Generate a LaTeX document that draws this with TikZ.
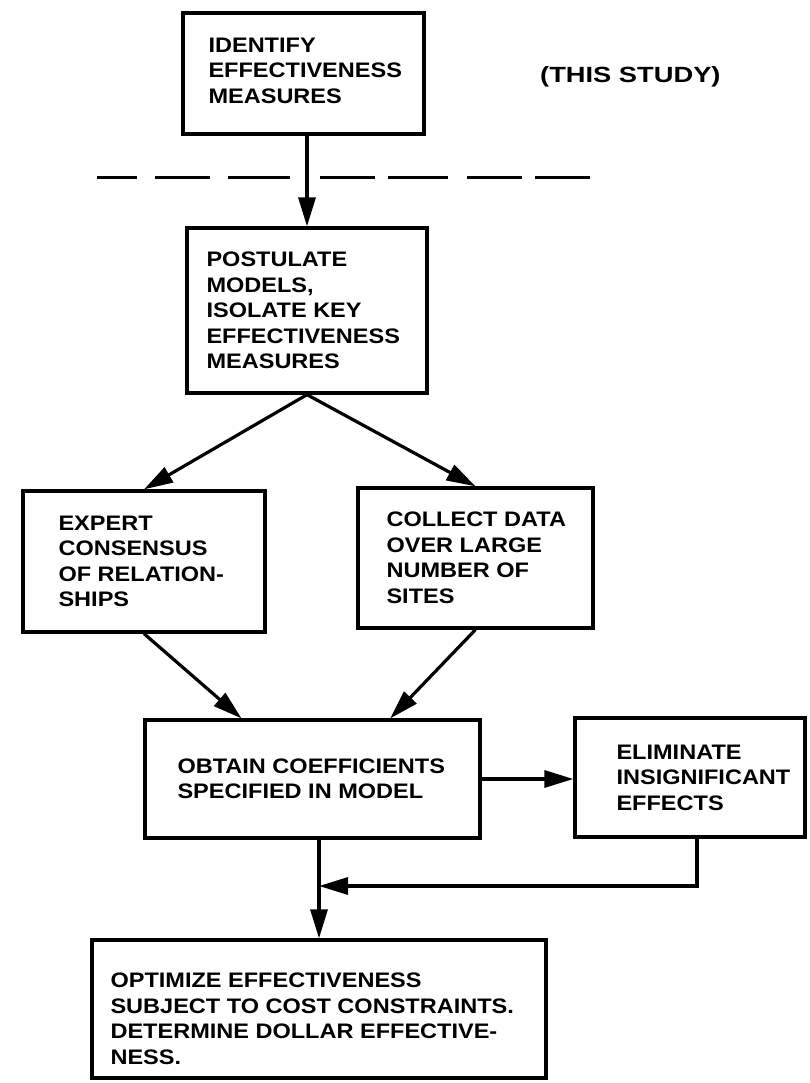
\documentclass[tikz,border=0pt]{standalone}
\usepackage{fontspec}
\newfontfamily\flowfont[FakeStretch=1.12]{Liberation Sans}
\newfontfamily\notefont[FakeStretch=1.24]{Liberation Sans}
\usetikzlibrary{arrows.meta,calc}
\begin{document}
\begin{tikzpicture}[x=1pt,y=-1pt]
\tikzset{
  procbox/.style={draw=black, line width=3.3pt, inner sep=0pt, rectangle},
  proctext/.style={anchor=west, align=left, inner sep=0pt,
    font=\flowfont\bfseries\fontsize{21}{25.5}\selectfont},
  notetext/.style={anchor=west, inner sep=0pt,
    font=\notefont\bfseries\fontsize{22}{26}\selectfont},
  flowarrow/.style={line width=3.2pt, -{Triangle[length=29pt,width=17pt]}},
  sepdash/.style={line width=3pt},
}
\useasboundingbox (0,0) rectangle (810,1083);
\fill[white] (0,0) rectangle (810,1083);

% process boxes
\node[procbox, minimum width=241pt, minimum height=121pt] (b1) at (303.5,73.5) {};
\node[proctext] (t1) at ([xshift=27pt,yshift=3pt]b1.west) {IDENTIFY\\EFFECTIVENESS\\MEASURES};

\node[procbox, minimum width=240pt, minimum height=165pt] (b2) at (307,310.5) {};
\node[proctext] (t2) at ([xshift=21pt]b2.west) {POSTULATE\\MODELS,\\ISOLATE KEY\\EFFECTIVENESS\\MEASURES};

\node[procbox, minimum width=242pt, minimum height=141pt] (b3) at (144,561.5) {};
\node[proctext] (t3) at ([xshift=37pt]b3.west) {EXPERT\\CONSENSUS\\OF RELATION-\\SHIPS};

\node[procbox, minimum width=235pt, minimum height=140pt] (b4) at (475.5,558) {};
\node[proctext] (t4) at ([xshift=30pt]b4.west) {COLLECT DATA\\OVER LARGE\\NUMBER OF\\SITES};

\node[procbox, minimum width=335pt, minimum height=118pt] (b5) at (312.5,779) {};
\node[proctext] (t5) at ([xshift=34pt]b5.west) {OBTAIN COEFFICIENTS\\SPECIFIED IN MODEL};

\node[procbox, minimum width=230pt, minimum height=119pt] (b6) at (690,777.5) {};
\node[proctext] (t6) at ([xshift=43pt]b6.west) {ELIMINATE\\INSIGNIFICANT\\EFFECTS};

\node[procbox, minimum width=454pt, minimum height=138pt] (b7) at (319,1009) {};
\node[proctext] (t7) at ([xshift=20pt,yshift=-10pt]b7.west) {OPTIMIZE EFFECTIVENESS\\SUBJECT TO COST CONSTRAINTS.\\DETERMINE DOLLAR EFFECTIVE-\\NESS.};

% side note
\node[notetext] (note) at (540,77) {(THIS STUDY)};

% separator between this study and later work
\foreach \xa/\xb in {97/137,155/210,228/290,320/375,388/448,467/522,535/590}
  \draw[sepdash] (\xa,178) -- (\xb,178);

% connectors
\draw[flowarrow] (b2.north |- b1.south) -- (b2.north);
\draw[flowarrow] (b2.south) -- (b3.north);
\draw[flowarrow] (b2.south) -- (b4.north);
\draw[flowarrow] (b3.south) -- ($(b5.north west)!0.29!(b5.north east)$);
\draw[flowarrow] (b4.south) -- ($(b5.north west)!0.73!(b5.north east)$);
\draw[flowarrow] (b5.east) -- (b5.east -| b6.west);
\draw[flowarrow] (b7.north |- b5.south) -- (b7.north);
\coordinate (fb) at (0,886);
\draw[flowarrow] ([xshift=7pt]b6.south) |- (b7.north |- fb);
\end{tikzpicture}
\end{document}
